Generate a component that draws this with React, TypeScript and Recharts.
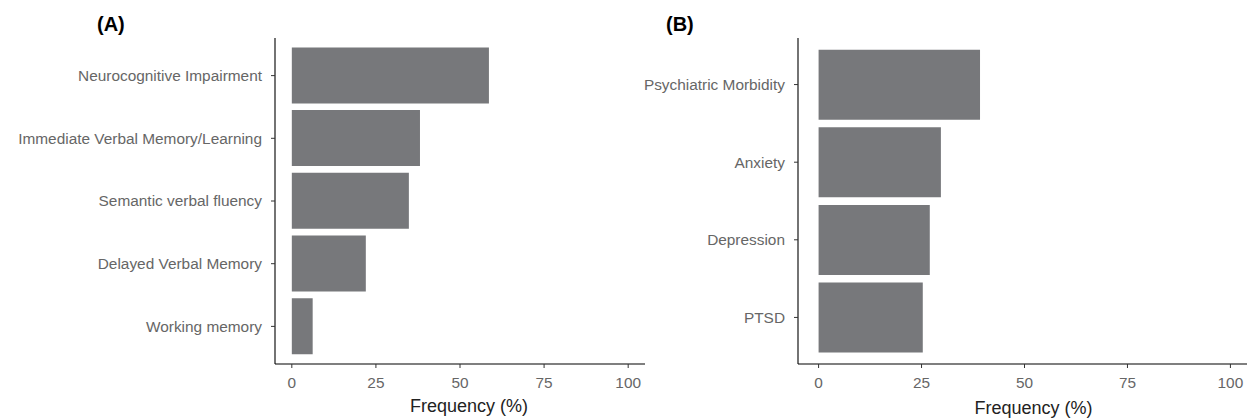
import React from 'react';
import { BarChart, Bar, XAxis, YAxis } from 'recharts';

const categoriesA = [
  'Neurocognitive Impairment',
  'Immediate Verbal Memory/Learning',
  'Semantic verbal fluency',
  'Delayed Verbal Memory',
  'Working memory',
];
const valuesA = [58.6, 38.1, 34.8, 22.0, 6.2];

const categoriesB = ['Psychiatric Morbidity', 'Anxiety', 'Depression', 'PTSD'];
const valuesB = [39.2, 29.7, 27.0, 25.3];

const xTicks = [0, 25, 50, 75, 100];
const xTitle = 'Frequency (%)';

const FONT = '"Liberation Sans", Arial, Helvetica, sans-serif';
const BAR = '#77787b';

const toRows = (cats: string[], vals: number[]) =>
  cats.map((name, i) => ({ name, value: vals[i] }));

// plain tick text, no wrapping
const CatTick = (props: any) => {
  const { x, y, payload } = props;
  return (
    <text x={x} y={y} dy="0.355em" textAnchor="end" fill="#666" fontSize={15.4} fontFamily={FONT}>
      {payload.value}
    </text>
  );
};

interface PanelProps {
  data: { name: string; value: number }[];
  width: number;
  axisWidth: number;
  bandPad: number;
  titleDy?: number;
}

const Panel: React.FC<PanelProps> = ({ data, width, axisWidth, bandPad, titleDy = 0 }) => (
  <BarChart
    width={width}
    height={418}
    data={data}
    layout="vertical"
    barCategoryGap="5%"
    margin={{ top: 38, right: 0, bottom: 0, left: 0 }}
  >
    <XAxis
      type="number"
      domain={[-5, 105]}
      ticks={xTicks}
      allowDataOverflow
      height={54}
      tickSize={4}
      tickMargin={9}
      axisLine={{ stroke: '#000', strokeWidth: 1.1 }}
      tickLine={{ stroke: '#333' }}
      tick={{ fill: '#666', fontSize: 15.4, fontFamily: FONT }}
      label={{
        value: xTitle,
        position: 'insideBottom',
        offset: 6 - titleDy,
        dx: 9,
        fill: '#222',
        fontSize: 18,
        fontFamily: FONT,
      }}
    />
    <YAxis
      type="category"
      dataKey="name"
      width={axisWidth}
      padding={{ top: bandPad, bottom: bandPad }}
      tickSize={4}
      tickMargin={9}
      interval={0}
      axisLine={{ stroke: '#000', strokeWidth: 1.1 }}
      tickLine={{ stroke: '#333' }}
      tick={<CatTick />}
    />
    <Bar dataKey="value" fill={BAR} isAnimationActive={false} />
  </BarChart>
);

const tagStyle: React.CSSProperties = {
  position: 'absolute',
  top: 12,
  fontFamily: FONT,
  fontWeight: 'bold',
  fontSize: 20,
  color: '#000',
  lineHeight: '24px',
};

export default function App() {
  return (
    <div
      style={{
        position: 'absolute',
        left: 0,
        top: 0,
        width: 1247,
        height: 418,
        overflow: 'hidden',
        background: '#fff',
      }}
    >
      <div style={{ position: 'absolute', left: 0, top: 0 }}>
        <Panel data={toRows(categoriesA, valuesA)} width={645} axisWidth={275} bandPad={326 / 5.2 * 0.1} />
      </div>
      <div style={{ position: 'absolute', left: 560, top: 0 }}>
        <Panel data={toRows(categoriesB, valuesB)} width={691} axisWidth={238} bandPad={326 / 4.2 * 0.1} titleDy={2} />
      </div>
      <div style={{ ...tagStyle, left: 97 }}>(A)</div>
      <div style={{ ...tagStyle, left: 666 }}>(B)</div>
    </div>
  );
}
